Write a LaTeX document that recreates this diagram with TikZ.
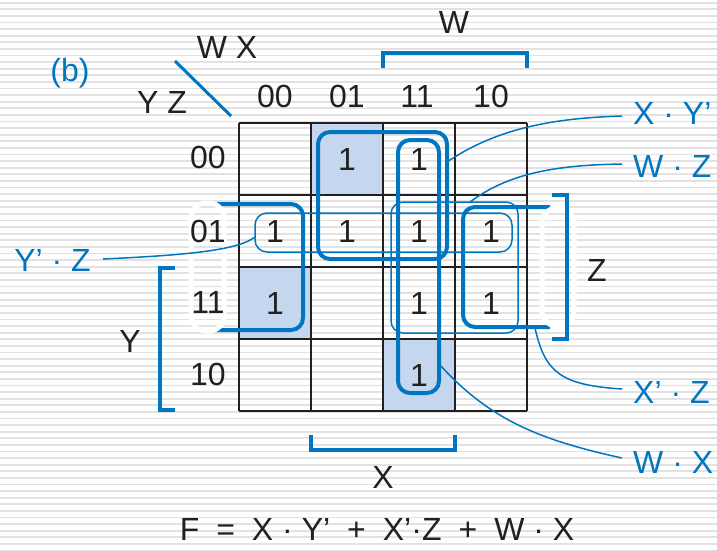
\documentclass[tikz,border=0pt]{standalone}
\usepackage{fontspec}
\setmainfont{Liberation Sans}
\definecolor{kblue}{RGB}{0,118,192}
\definecolor{kfill}{RGB}{197,215,238}
\definecolor{kgrid}{RGB}{35,31,32}
\definecolor{kstripe}{RGB}{226,226,226}
\begin{document}
\begin{tikzpicture}[x=1pt,y=-1pt,
  every node/.style={font=\fontsize{32}{38}\selectfont, inner sep=0pt, text=kgrid},
  bluetext/.style={text=kblue},
  thickloop/.style={draw=kblue, line width=4pt, rounded corners=12pt},
  thinloop/.style={draw=kblue, line width=1.5pt, rounded corners=12pt},
  ghost/.style={draw=white, line width=5pt, rounded corners=15pt},
  bracket/.style={draw=kblue, line width=4pt},
  leader/.style={draw=kblue, line width=1.5pt},
  gridline/.style={draw=kgrid, line width=2pt}]
\useasboundingbox (0,0) rectangle (717,550);
\fill[white] (0,0) rectangle (717,550);
\foreach \i in {0,...,83} \draw[kstripe, line width=1.8pt] (0,{2.7+6.6*\i}) -- (717,{2.7+6.6*\i});
% shaded cells
\fill[kfill] (311,123) rectangle (383,195);
\fill[kfill] (239,267) rectangle (311,339);
\fill[kfill] (383,339) rectangle (455,411);
% grid
\foreach \k in {0,...,4} {
  \draw[gridline] ({239+72*\k},123) -- ({239+72*\k},411);
  \draw[gridline] (239,{123+72*\k}) -- (527,{123+72*\k});
}
% thin loops
\draw[thinloop] (391,202) rectangle (518,333);
\draw[thinloop] (255,213) rectangle (512,252);
% thick loops
\draw[thickloop] (318,132) rectangle (447,259);
\draw[thickloop] (398,140) rectangle (439,393);
\draw[thickloop] (550,207) -- (463,207) -- (463,327) -- (550,327);
\draw[thickloop] (213,204) -- (303,204) -- (303,330) -- (213,330);
% ghost ends of the wrap-around loop
\draw[ghost] (191,203) rectangle (224,331);
\draw[ghost] (542,208) rectangle (574,326);
% brackets
\draw[bracket] (383,68) -- (383,53) -- (527,53) -- (527,68);
\draw[bracket] (175,268) -- (160,268) -- (160,410) -- (175,410);
\draw[bracket] (552,195) -- (567,195) -- (567,339) -- (552,339);
\draw[bracket] (311,435) -- (311,450) -- (455,450) -- (455,435);
% corner diagonal
\draw[kblue, line width=3pt] (175,61) -- (231,116);
% headings
\node[bluetext] (b) at (70,73) {(b)};
\node (wx) at (227,47) {W X};
\node (yz) at (162,102) {Y Z};
\node (w) at (454,22) {W};
\node (y) at (130,341) {Y};
\node (z) at (597,270) {Z};
\node (x) at (383,477) {X};
\node (h00) at (275,96) {00};
\node (h01) at (347,96) {01};
\node (h11) at (417,96) {11};
\node (h10) at (491,96) {10};
\node (r00) at (208,157) {00};
\node (r01) at (208,231) {01};
\node (r11) at (208,302) {11};
\node (r10) at (208,374) {10};
% cell entries
\node (c0001) at (347,159) {1};
\node (c0011) at (419,159) {1};
\node (c0100) at (275,231) {1};
\node (c0101) at (347,231) {1};
\node (c0111) at (419,231) {1};
\node (c0110) at (491,231) {1};
\node (c1100) at (275,303) {1};
\node (c1111) at (419,303) {1};
\node (c1110) at (491,303) {1};
\node (c1011) at (419,375) {1};
% labels
\node[bluetext, anchor=west] (lxy) at (633,113) {X · Y’};
\node[bluetext, anchor=west] (lwz) at (633,166) {W · Z};
\node[bluetext, anchor=west] (lxz) at (633,392) {X’ · Z};
\node[bluetext, anchor=west] (lwx) at (633,462) {W · X};
\node[bluetext, anchor=east] (lyz) at (91,260) {Y’ · Z};
% formula
\node (f) at (377,529) {F\hspace{17pt}=\hspace{17pt}X · Y’\hspace{17pt}+\hspace{17pt}X’·Z\hspace{17pt}+\hspace{17pt}W · X};
% leader anchor points on loops
\coordinate (pxy) at (447,162);
\coordinate (pwz) at (470,202);
\coordinate (pyz) at (255,237);
\coordinate (pxz) at (535,328);
\coordinate (pwx) at (440,365);
\draw[leader] (pxy) .. controls (500,126) and (560,118) .. ([xshift=-11pt,yshift=-3pt]lxy.west);
\draw[leader] (pwz) .. controls (510,172) and (560,165) .. ([xshift=-11pt,yshift=2pt]lwz.west);
\draw[leader] ([xshift=12pt,yshift=1pt]lyz.east) .. controls (190,255) and (238,250) .. (pyz);
\draw[leader] (pxz) .. controls (545,372) and (560,385) .. ([xshift=-11pt,yshift=3pt]lxz.west);
\draw[leader] (pwx) .. controls (490,420) and (540,440) .. ([xshift=-11pt,yshift=4pt]lwx.west);
\end{tikzpicture}
\end{document}
